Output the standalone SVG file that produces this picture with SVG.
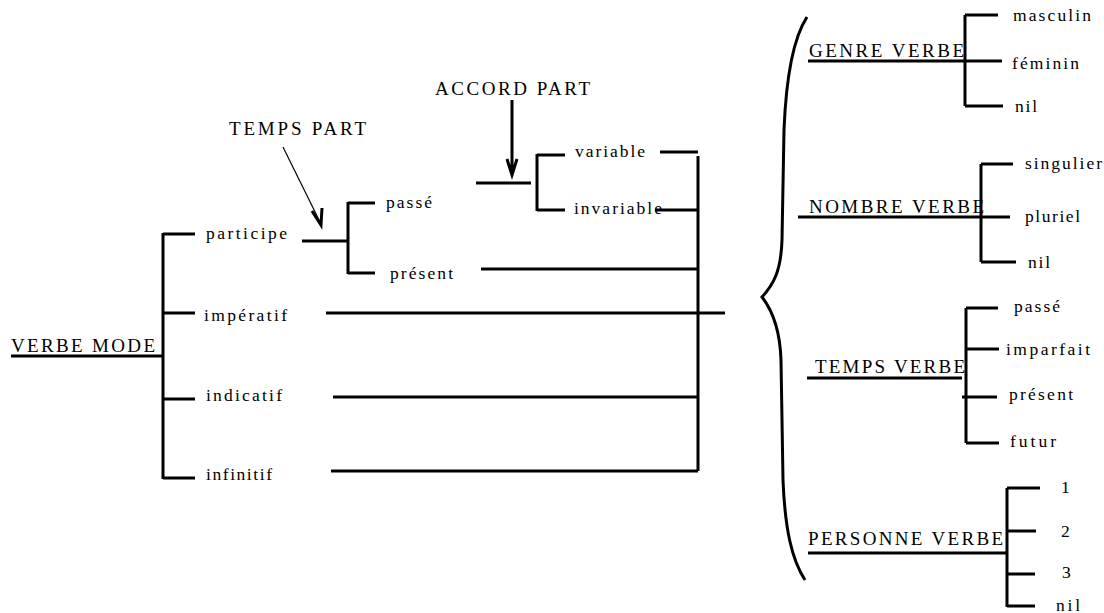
<svg xmlns="http://www.w3.org/2000/svg" width="1104" height="613" viewBox="0 0 1104 613">
<style>
.t{font-family:"Liberation Serif","DejaVu Serif",serif;font-size:17.5px;fill:#000}
.c{font-size:19px}
.l{stroke:#000;stroke-width:3;fill:none;stroke-linecap:butt}
.thin{stroke:#000;stroke-width:1.2;fill:none}
</style>
<rect width="1104" height="613" fill="#fff"/>
<g id="connectors">
<path class="l" d="M11,356H163M163,233V479M163,234H195M163,313H195M163,399H195M163,478H195"/>
<path class="l" d="M302,241H348M348,202V274M348,203H375M348,273H375"/>
<path class="l" d="M476,183H531M537,154V211M537,155H565M537,210H565"/>
<path class="l" d="M660,152H698M655,210H698M481,269H698M326,313H725M333,397H698M331,471H698M698,156V471"/>
<path class="l" d="M512,100V174M507,159L512,175L517,159"/>
<path class="thin" d="M283,147L321,224"/>
<path class="l" d="M312,211L321,225L322,208"/>
<path class="l" d="M807,17C792,40 786,80 784,130L782,240C781,272 773,285 762,297C772,310 780,330 781,360L783,480C785,530 792,560 805,580"/>
<path class="l" d="M808,61H1002M965,15V106M965,15H998M965,106H1003"/>
<path class="l" d="M798,217H1010M981,164V262M981,164H1013M981,262H1016"/>
<path class="l" d="M807,378H962M966,308V443M966,308H998M966,349H999M962,397H997M966,443H999"/>
<path class="l" d="M808,553H1007M1007,488V607M1007,488H1040M1007,531H1036M1007,574H1035M1007,606H1035"/>
</g>
<g id="verbe-mode"><text class="t c" x="11" y="352" textLength="144" lengthAdjust="spacing">VERBE MODE</text></g>
<g id="temps-part"><text class="t c" x="229" y="135" textLength="137" lengthAdjust="spacing">TEMPS PART</text></g>
<g id="accord-part"><text class="t c" x="435" y="95" textLength="155" lengthAdjust="spacing">ACCORD PART</text></g>
<g id="participe"><text class="t" x="206" y="239" textLength="81" lengthAdjust="spacing">participe</text></g>
<g id="imperatif"><text class="t" x="204" y="321" textLength="83" lengthAdjust="spacing">impératif</text></g>
<g id="indicatif"><text class="t" x="206" y="401" textLength="76" lengthAdjust="spacing">indicatif</text></g>
<g id="infinitif"><text class="t" x="206" y="480" textLength="66" lengthAdjust="spacing">infinitif</text></g>
<g id="passe"><text class="t" x="386" y="208" textLength="46" lengthAdjust="spacing">passé</text></g>
<g id="present"><text class="t" x="390" y="279" textLength="63" lengthAdjust="spacing">présent</text></g>
<g id="variable"><text class="t" x="575" y="157" textLength="70" lengthAdjust="spacing">variable</text></g>
<g id="invariable"><text class="t" x="574" y="214" textLength="88" lengthAdjust="spacing">invariable</text></g>
<g id="genre-verbe"><text class="t c" x="809" y="57" textLength="155" lengthAdjust="spacing">GENRE VERBE</text></g>
<g id="masculin"><text class="t" x="1013" y="21" textLength="78" lengthAdjust="spacing">masculin</text></g>
<g id="feminin"><text class="t" x="1012" y="69" textLength="67" lengthAdjust="spacing">féminin</text></g>
<g id="genre-nil"><text class="t" x="1015" y="112" textLength="22" lengthAdjust="spacing">nil</text></g>
<g id="nombre-verbe"><text class="t c" x="809" y="213" textLength="175" lengthAdjust="spacing">NOMBRE VERBE</text></g>
<g id="singulier"><text class="t" x="1025" y="169" textLength="77" lengthAdjust="spacing">singulier</text></g>
<g id="pluriel"><text class="t" x="1025" y="222" textLength="55" lengthAdjust="spacing">pluriel</text></g>
<g id="nombre-nil"><text class="t" x="1028" y="268" textLength="22" lengthAdjust="spacing">nil</text></g>
<g id="temps-verbe"><text class="t c" x="815" y="373" textLength="150" lengthAdjust="spacing">TEMPS VERBE</text></g>
<g id="tv-passe"><text class="t" x="1014" y="312" textLength="46" lengthAdjust="spacing">passé</text></g>
<g id="imparfait"><text class="t" x="1006" y="355" textLength="84" lengthAdjust="spacing">imparfait</text></g>
<g id="tv-present"><text class="t" x="1009" y="400" textLength="64" lengthAdjust="spacing">présent</text></g>
<g id="futur"><text class="t" x="1010" y="447" textLength="46" lengthAdjust="spacing">futur</text></g>
<g id="personne-verbe"><text class="t c" x="808" y="545" textLength="195" lengthAdjust="spacing">PERSONNE VERBE</text></g>
<g id="p1"><text class="t" x="1061" y="493">1</text></g>
<g id="p2"><text class="t" x="1061" y="537">2</text></g>
<g id="p3"><text class="t" x="1062" y="578">3</text></g>
<g id="p-nil"><text class="t" x="1056" y="611" textLength="24" lengthAdjust="spacing">nil</text></g>
</svg>
